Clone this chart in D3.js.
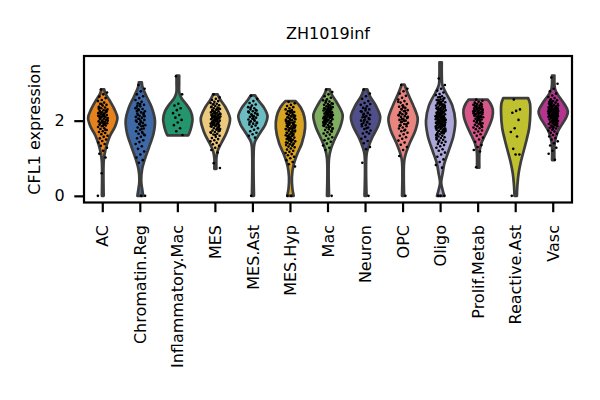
<!doctype html>
<html lang="en">
<head>
    <meta charset="UTF-8">
    <title>CFL1 violin</title>
    <script src="https://d3js.org/d3.v7.min.js"></script>
    <style>
        body { margin: 0; background: #fff; }
        text { font-family: "DejaVu Sans", sans-serif; fill: #000; }
    </style>
</head>
<body>
<div class="canvas"></div>
</body>

<script>
  // cell types along the x axis and their fill colours
  const categories = ['AC', 'Chromatin.Reg', 'Inflammatory.Mac', 'MES', 'MES.Ast', 'MES.Hyp', 'Mac',
    'Neuron', 'OPC', 'Oligo', 'Prolif.Metab', 'Reactive.Ast', 'Vasc'];
  const colors = ['#e4821e', '#3f68a6', '#24966e', '#ecc97e', '#6cbcc1', '#d9a422', '#7fae60',
    '#4f4f8b', '#e8857f', '#aca8d8', '#d8578a', '#bfc12f', '#b5348f'];
  const yTicks = [0, 2];

  // violin outlines: [expression, relative half width]
  const acShape = [[0, 0.06], [0.9, 0.06], [1.1, 0.12], [1.35, 0.27], [1.6, 0.5], [1.85, 0.85], [2.08, 1], [2.3, 0.8], [2.55, 0.45], [2.72, 0.18], [2.83, 0.1]];
  const chromShape = [[0, 0.2], [0.15, 0.14], [0.4, 0.06], [0.7, 0.12], [1.0, 0.33], [1.3, 0.6], [1.65, 0.9], [2.0, 1], [2.35, 0.78], [2.65, 0.42], [2.9, 0.15], [3.02, 0.1]];
  const inflShape = [[1.61, 0.72], [1.75, 0.86], [1.95, 0.98], [2.05, 1], [2.25, 0.88], [2.45, 0.55], [2.6, 0.25], [2.75, 0.1], [3.0, 0.09], [3.2, 0.09]];
  const mesShape = [[0.72, 0.07], [1.0, 0.07], [1.2, 0.16], [1.4, 0.4], [1.7, 0.78], [2.05, 1], [2.35, 0.7], [2.55, 0.35], [2.7, 0.15]];
  const mesAstShape = [[0, 0.07], [1.3, 0.07], [1.45, 0.15], [1.65, 0.45], [1.9, 0.85], [2.12, 1], [2.35, 0.75], [2.55, 0.35], [2.67, 0.15]];
  const mesHypShape = [[0, 0.22], [0.2, 0.13], [0.5, 0.1], [0.8, 0.2], [1.1, 0.45], [1.4, 0.78], [1.8, 1], [2.1, 0.95], [2.35, 0.7], [2.52, 0.35]];
  const macShape = [[0, 0.07], [1.0, 0.07], [1.25, 0.2], [1.5, 0.45], [1.85, 0.85], [2.15, 1], [2.45, 0.65], [2.7, 0.25], [2.83, 0.12]];
  const neuronShape = [[0, 0.07], [1.1, 0.07], [1.3, 0.2], [1.55, 0.45], [1.85, 0.85], [2.1, 1], [2.4, 0.7], [2.65, 0.3], [2.83, 0.12]];
  const opcShape = [[0, 0.07], [0.9, 0.07], [1.1, 0.17], [1.4, 0.45], [1.75, 0.85], [2.05, 1], [2.4, 0.7], [2.7, 0.35], [2.9, 0.15], [2.96, 0.1]];
  const oligoShape = [[0, 0.25], [0.12, 0.16], [0.35, 0.04], [0.6, 0.14], [0.85, 0.25], [1.2, 0.55], [1.6, 0.88], [2.0, 1], [2.4, 0.8], [2.75, 0.35], [2.95, 0.12], [3.2, 0.08], [3.55, 0.08]];
  const prolifShape = [[0.75, 0.08], [1.2, 0.1], [1.4, 0.22], [1.6, 0.45], [1.85, 0.75], [2.1, 0.97], [2.3, 1], [2.45, 0.85], [2.56, 0.65]];
  const reactiveShape = [[0, 0.08], [0.3, 0.12], [0.6, 0.2], [0.9, 0.35], [1.2, 0.55], [1.5, 0.75], [1.8, 0.92], [2.2, 1], [2.45, 0.98], [2.6, 0.85]];
  const vascShape = [[0.95, 0.08], [1.4, 0.1], [1.7, 0.3], [1.9, 0.6], [2.1, 0.9], [2.25, 1], [2.45, 0.75], [2.7, 0.3], [2.85, 0.12], [3.2, 0.08]];

  // single cell values (strip plot)
  const acDots = [2.83, 2.75, 2.7, 2.64, 2.6, 2.55, 2.52, 2.48, 2.45, 2.42, 2.4, 2.37, 2.35, 2.33, 2.3, 2.28, 2.26, 2.24, 2.22, 2.2, 2.19, 2.17, 2.15, 2.14, 2.12, 2.1, 2.09, 2.07, 2.05, 2.04, 2.02, 2.0, 1.98, 1.97, 1.95, 1.93, 1.91, 1.89, 1.87, 1.85, 1.83, 1.8, 1.78, 1.75, 1.72, 1.7, 1.67, 1.64, 1.6, 1.57, 1.53, 1.5, 1.46, 1.42, 1.38, 1.33, 1.28, 1.2, 1.12, 1.02, 0.6, 0, 2.18, 2.06, 2.25, 1.96, 2.32, 1.9, 2.11, 2.01,
    2.16, 2.08, 2.27, 1.99, 2.13, 1.94, 2.21, 2.03, 1.86, 2.36, 1.76, 2.44, 2.0, 2.12, 1.92, 2.23];
  const chromDots = [2.95, 2.85, 2.78, 2.7, 2.65, 2.6, 2.55, 2.5, 2.46, 2.42, 2.38, 2.35, 2.31, 2.28, 2.25, 2.22, 2.19, 2.16, 2.13, 2.1, 2.08, 2.05, 2.02, 2.0, 1.97, 1.94, 1.91, 1.88, 1.85, 1.82, 1.79, 1.76, 1.72, 1.68, 1.65, 1.61, 1.57, 1.53, 1.48, 1.43, 1.38, 1.32, 1.25, 1.18, 1.1, 1.02, 0.95, 0.88, 0, 0, 2.4, 2.2, 1.9, 2.0, 1.7, 2.3,
    2.12, 1.96, 2.26, 1.86, 2.05, 2.33, 1.78, 2.15, 1.63, 2.44];
  const inflDots = [3.18, 2.7, 2.45, 2.4, 2.33, 2.28, 2.2, 2.15, 2.08, 2.02, 1.95, 1.88, 1.8, 1.72, 1.62];
  const mesDots = [2.7, 2.62, 2.58, 2.55, 2.52, 2.5, 2.47, 2.45, 2.43, 2.41, 2.39, 2.37, 2.35, 2.33, 2.31, 2.29, 2.27, 2.25, 2.24, 2.22, 2.21, 2.19, 2.18, 2.16, 2.15, 2.13, 2.12, 2.11, 2.09, 2.08, 2.06, 2.05, 2.04, 2.02, 2.01, 2.0, 1.98, 1.97, 1.95, 1.94, 1.92, 1.91, 1.89, 1.87, 1.86, 1.84, 1.82, 1.8, 1.78, 1.76, 1.74, 1.72, 1.7, 1.68, 1.65, 1.63, 1.6, 1.57, 1.54, 1.51, 1.48, 1.45, 1.41, 1.37, 1.33, 1.28, 1.22, 1.15, 0.87, 0.74, 2.0, 2.1, 1.9, 2.2, 1.85, 2.3, 1.96, 2.07,
    2.03, 1.93, 2.14, 1.88, 2.17, 1.99, 2.26, 1.83, 2.09, 2.36, 1.79, 2.44, 1.73, 2.02, 2.11, 1.95, 2.23, 1.69, 2.06, 1.9, 2.32, 1.62, 2.15, 1.97, 2.0, 2.19, 1.87, 2.28, 1.75, 2.08];
  const mesAstDots = [2.66, 2.58, 2.52, 2.47, 2.43, 2.4, 2.36, 2.33, 2.3, 2.27, 2.25, 2.22, 2.2, 2.17, 2.15, 2.12, 2.1, 2.08, 2.05, 2.03, 2.0, 1.98, 1.95, 1.92, 1.9, 1.87, 1.84, 1.8, 1.76, 1.72, 1.68, 1.64, 1.6, 1.55, 0, 2.18, 2.06, 1.96, 2.28,
    2.14, 2.24, 2.01, 2.35, 1.93, 2.11];
  const mesHypDots = [2.5, 2.46, 2.42, 2.39, 2.36, 2.33, 2.3, 2.28, 2.25, 2.23, 2.21, 2.19, 2.17, 2.15, 2.13, 2.11, 2.09, 2.07, 2.05, 2.03, 2.01, 1.99, 1.97, 1.95, 1.93, 1.91, 1.89, 1.87, 1.85, 1.83, 1.81, 1.79, 1.77, 1.75, 1.73, 1.71, 1.69, 1.67, 1.65, 1.63, 1.61, 1.59, 1.57, 1.55, 1.53, 1.51, 1.49, 1.47, 1.45, 1.43, 1.41, 1.39, 1.37, 1.35, 1.33, 1.31, 1.29, 1.26, 1.23, 1.2, 1.17, 1.14, 1.11, 1.08, 1.04, 1.0, 0.95, 0.9, 0.84, 0.78, 0, 0, 1.9, 1.8, 2.0, 1.7, 1.6, 2.1, 1.5, 1.86,
    1.94, 1.76, 2.04, 1.66, 1.88, 2.14, 1.56, 1.98, 1.72, 2.08, 1.82, 1.46, 2.18, 1.62, 1.92, 1.78, 2.22, 1.52, 1.84, 2.02, 1.68, 1.36, 1.96, 1.74, 2.12, 1.58, 1.9, 2.26, 1.42, 1.8];
  const macDots = [2.83, 2.76, 2.7, 2.65, 2.61, 2.57, 2.54, 2.51, 2.48, 2.46, 2.44, 2.42, 2.4, 2.38, 2.36, 2.34, 2.32, 2.3, 2.28, 2.27, 2.25, 2.24, 2.22, 2.21, 2.19, 2.18, 2.16, 2.15, 2.14, 2.12, 2.11, 2.1, 2.08, 2.07, 2.05, 2.04, 2.02, 2.01, 1.99, 1.98, 1.96, 1.94, 1.92, 1.9, 1.88, 1.86, 1.84, 1.82, 1.8, 1.77, 1.75, 1.72, 1.69, 1.66, 1.63, 1.6, 1.56, 1.52, 1.48, 1.44, 1.39, 1.34, 1.28, 1.22, 0, 2.2, 2.1, 2.3, 2.0, 2.15, 2.25, 1.95, 2.35,
    2.17, 2.06, 2.27, 1.97, 2.13, 2.37, 1.89, 2.22, 2.03, 2.45, 1.83, 2.19, 2.09, 2.31, 1.93, 2.14, 2.52, 1.78, 2.24, 2.0, 2.12, 2.29, 1.87, 2.41, 2.07, 1.71, 2.16, 2.33, 1.95, 2.2];
  const neuronDots = [2.83, 2.72, 2.65, 2.58, 2.52, 2.47, 2.42, 2.38, 2.34, 2.3, 2.27, 2.24, 2.21, 2.18, 2.15, 2.12, 2.09, 2.06, 2.03, 2.0, 1.97, 1.94, 1.91, 1.88, 1.85, 1.82, 1.78, 1.74, 1.7, 1.66, 1.66, 1.57, 1.52, 1.46, 1.4, 1.3, 1.24, 0.88, 0, 2.1, 2.25, 1.95,
    2.16, 2.04, 2.32, 1.9, 2.2, 2.0, 2.44, 1.8];
  const opcDots = [2.95, 2.85, 2.78, 2.72, 2.66, 2.61, 2.56, 2.52, 2.48, 2.44, 2.4, 2.37, 2.34, 2.31, 2.28, 2.25, 2.22, 2.2, 2.17, 2.15, 2.12, 2.1, 2.07, 2.05, 2.02, 2.0, 1.97, 1.94, 1.91, 1.88, 1.85, 1.82, 1.79, 1.76, 1.72, 1.68, 1.64, 1.6, 1.56, 1.52, 1.47, 1.42, 1.36, 1.3, 1.22, 1.06, 0, 2.3, 2.1, 2.0, 2.2, 1.9, 2.4,
    2.14, 2.26, 1.96, 2.08, 2.36, 1.86, 2.18, 2.04, 2.5, 1.74];
  const oligoDots = [3.12, 2.95, 2.85, 2.8, 2.75, 2.71, 2.68, 2.65, 2.62, 2.6, 2.57, 2.55, 2.53, 2.51, 2.49, 2.47, 2.45, 2.43, 2.42, 2.4, 2.38, 2.37, 2.35, 2.34, 2.32, 2.31, 2.29, 2.28, 2.26, 2.25, 2.24, 2.22, 2.21, 2.2, 2.18, 2.17, 2.16, 2.14, 2.13, 2.12, 2.11, 2.09, 2.08, 2.07, 2.06, 2.04, 2.03, 2.02, 2.01, 1.99, 1.98, 1.97, 1.96, 1.94, 1.93, 1.92, 1.9, 1.89, 1.88, 1.86, 1.85, 1.84, 1.82, 1.81, 1.79, 1.78, 1.76, 1.75, 1.73, 1.71, 1.7, 1.68, 1.66, 1.64, 1.62, 1.6, 1.58, 1.56, 1.54, 1.52, 1.49, 1.47, 1.44, 1.41, 1.38, 1.35, 1.32, 1.28, 1.24, 1.2, 1.15, 1.1, 1.04, 0.97, 0.9, 0.82, 0.75, 0, 0, 0, 2.1, 2.0, 2.2, 1.95, 2.05, 2.15, 1.87, 2.3, 1.8, 2.25, 1.72, 2.4, 2.5, 1.65, 2.08, 1.98,
    2.12, 1.91, 2.23, 2.02, 1.83, 2.33, 1.97, 2.17, 1.77, 2.44, 2.06, 1.69, 2.28, 1.94, 2.13, 2.54, 1.86, 2.19, 1.61, 2.38, 2.0, 1.74, 2.27, 1.89, 2.09, 2.46, 1.55, 2.21, 1.99, 2.35,
    1.81, 2.14, 2.58, 1.93, 2.04, 1.67, 2.31, 1.88, 2.16, 1.5, 2.42, 2.01, 1.79, 2.24, 1.96, 2.11, 2.63, 1.84, 2.07, 1.43, 2.36, 1.92, 2.18, 1.71, 2.29, 2.03, 1.85, 2.48, 1.98, 2.1];
  const prolifDots = [2.56, 2.53, 2.5, 2.48, 2.46, 2.44, 2.42, 2.4, 2.38, 2.37, 2.35, 2.33, 2.32, 2.3, 2.29, 2.27, 2.26, 2.24, 2.23, 2.21, 2.2, 2.18, 2.17, 2.15, 2.14, 2.12, 2.1, 2.09, 2.07, 2.05, 2.03, 2.01, 1.99, 1.97, 1.95, 1.93, 1.91, 1.89, 1.87, 1.85, 1.82, 1.8, 1.77, 1.74, 1.71, 1.68, 1.64, 1.6, 1.55, 1.5, 1.44, 1.35, 1.3, 1.22, 1.18, 0.76, 2.3, 2.2, 2.4, 2.1, 2.0, 2.25,
    2.34, 2.16, 2.43, 2.06, 2.28, 1.94, 2.39, 2.22, 2.11, 2.47, 1.88, 2.31, 2.19, 2.02, 2.36, 1.83, 2.26, 2.13, 2.41, 1.96];
  const reactiveDots = [2.56, 2.3, 2.26, 2.21, 2.02, 1.8, 1.7, 1.58, 1.25, 1.1, 1.1, 0];
  const vascDots = [3.15, 2.98, 2.85, 2.78, 2.72, 2.67, 2.63, 2.6, 2.57, 2.54, 2.52, 2.5, 2.48, 2.46, 2.44, 2.42, 2.41, 2.39, 2.38, 2.36, 2.35, 2.33, 2.32, 2.31, 2.29, 2.28, 2.27, 2.26, 2.24, 2.23, 2.22, 2.21, 2.2, 2.18, 2.17, 2.16, 2.15, 2.13, 2.12, 2.11, 2.1, 2.08, 2.07, 2.06, 2.04, 2.03, 2.02, 2.0, 1.99, 1.97, 1.96, 1.94, 1.93, 1.91, 1.89, 1.87, 1.85, 1.83, 1.81, 1.79, 1.76, 1.74, 1.71, 1.68, 1.65, 1.62, 1.58, 1.54, 1.5, 1.45, 1.4, 1.34, 1.28, 1.2, 1.12, 0.96, 2.25, 2.3, 2.2, 2.15, 2.35, 2.1, 2.4, 2.05, 2.28, 2.18, 2.0, 2.45,
    2.24, 2.14, 2.33, 2.06, 2.27, 1.95, 2.38, 2.19, 2.09, 2.47, 2.01, 2.29, 2.22, 1.88, 2.36, 2.12, 2.26, 2.55, 1.98, 2.17, 2.31, 2.04, 2.43, 1.92, 2.21, 2.13, 2.34, 1.84, 2.25, 2.08,
    2.4, 2.16, 1.78, 2.3, 2.02, 2.5, 2.2, 1.9, 2.37, 2.11];

  const shapes = [acShape, chromShape, inflShape, mesShape, mesAstShape, mesHypShape, macShape,
    neuronShape, opcShape, oligoShape, prolifShape, reactiveShape, vascShape];
  const dots = [acDots, chromDots, inflDots, mesDots, mesAstDots, mesHypDots, macDots,
    neuronDots, opcDots, oligoDots, prolifDots, reactiveDots, vascDots];

  const groups = categories.map((name, i) => ({name, color: colors[i], shape: shapes[i], dots: dots[i]}));

  const width = 600, height = 400;
  const plot = {left: 84, right: 572, top: 56, bottom: 202.5};

  const svg = d3.select('.canvas')
    .append('svg')
    .attr('width', width)
    .attr('height', height)

  const x = d3.scaleBand()
    .domain(categories)
    .range([plot.left, plot.right])
    .padding(0)

  const y = d3.scaleLinear()
    .domain([-0.177, 3.72])
    .range([plot.bottom, plot.top])

  const halfW = x.bandwidth() * 0.39;

  const g = svg.append('g');

  // violins
  g.selectAll('path.violin')
    .data(groups)
    .join('path')
    .attr('class', 'violin')
    .attr('d', d => {
      const cx = x(d.name) + x.bandwidth() / 2;
      return d3.area()
        .y(p => y(p[0]))
        .x0(p => cx - p[1] * halfW)
        .x1(p => cx + p[1] * halfW)
        .curve(d3.curveCatmullRom.alpha(0.5))(d.shape)
    })
    .attr('fill', d => d.color)
    .attr('stroke', '#3d3d3d')
    .attr('stroke-width', 2.7)
    .attr('stroke-linejoin', 'round')

  // strip points, spread with a fixed low-discrepancy jitter
  const jitter = 5;
  groups.forEach(grp => {
    const cx = x(grp.name) + x.bandwidth() / 2;
    g.append('g')
      .selectAll('circle')
      .data(grp.dots)
      .join('circle')
      .attr('cx', (v, i) => cx + (((i * 0.6180339 + 0.31) % 1) - 0.5) * 2 * jitter)
      .attr('cy', v => y(v))
      .attr('r', 1.3)
      .attr('fill', '#000')
  })

  // frame
  svg.append('rect')
    .attr('x', plot.left)
    .attr('y', plot.top)
    .attr('width', plot.right - plot.left)
    .attr('height', plot.bottom - plot.top)
    .attr('fill', 'none')
    .attr('stroke', '#000')
    .attr('stroke-width', 2.2)

  // axes
  const xAxis = svg.append('g')
    .attr('transform', `translate(0,${plot.bottom})`)
    .call(d3.axisBottom(x).tickSize(9.7).tickPadding(9.7))
  xAxis.select('.domain').remove();
  xAxis.selectAll('.tick line').attr('stroke', '#000').attr('stroke-width', 2.2);
  xAxis.selectAll('.tick text')
    .attr('transform', 'rotate(-90)')
    .attr('text-anchor', 'end')
    .attr('x', -22.5)
    .attr('y', 0)
    .attr('dy', '0.35em')
    .attr('font-size', '16px')

  const yAxis = svg.append('g')
    .attr('transform', `translate(${plot.left},0)`)
    .call(d3.axisLeft(y).tickValues(yTicks).tickFormat(d3.format('d')).tickSize(9.7).tickPadding(9.7))
  yAxis.select('.domain').remove();
  yAxis.selectAll('.tick line').attr('stroke', '#000').attr('stroke-width', 2.2);
  yAxis.selectAll('.tick text').attr('font-size', '16px')

  // title and axis label
  svg.append('text')
    .attr('x', (plot.left + plot.right) / 2)
    .attr('y', 39)
    .attr('text-anchor', 'middle')
    .attr('font-size', '16px')
    .text('ZH1019inf')

  svg.append('text')
    .attr('transform', `translate(40,${(plot.top + plot.bottom) / 2}) rotate(-90)`)
    .attr('text-anchor', 'middle')
    .attr('font-size', '16px')
    .text('CFL1 expression')
</script>
</html>
